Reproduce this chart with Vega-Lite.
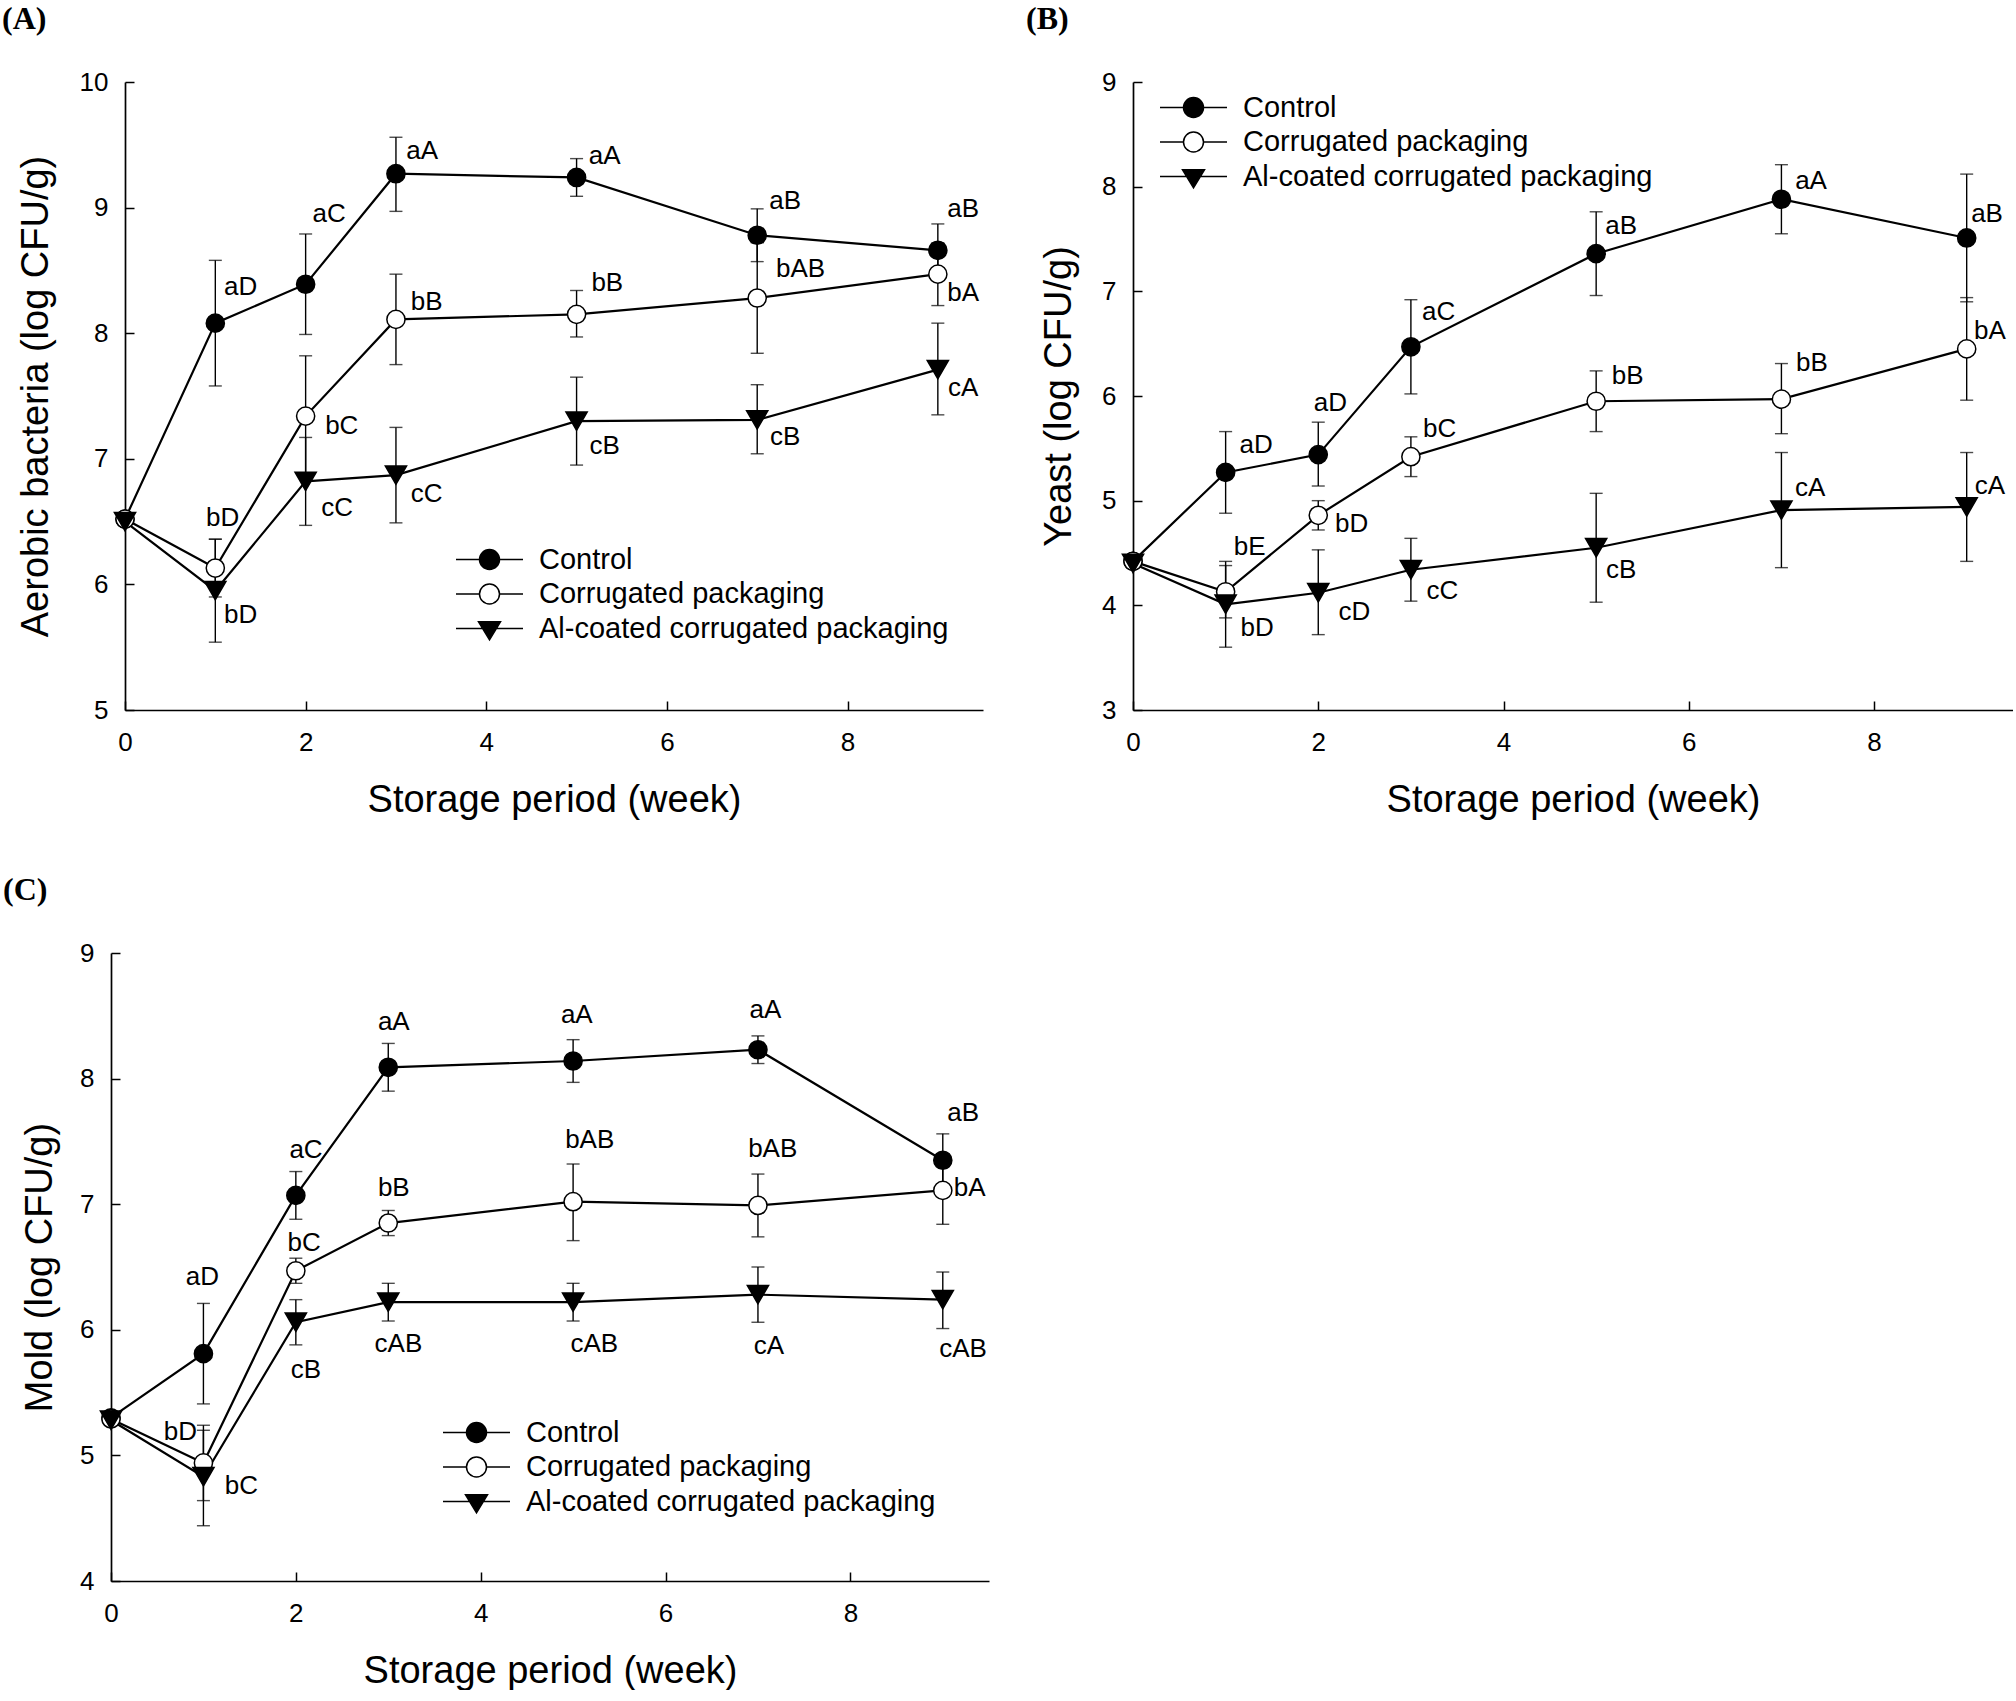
{
  "$schema": "https://vega.github.io/schema/vega-lite/v6.json",
  "background": "white",
  "padding": {"left": 2, "top": 3, "right": 0, "bottom": 0},
  "datasets": {
    "A": [
      {"week": 0, "series": "Control", "mean": 6.52, "lo": 6.50, "hi": 6.54, "label": "", "lx": 0, "ly": 6.52},
      {"week": 1, "series": "Control", "mean": 8.08, "lo": 7.58, "hi": 8.58, "label": "aD", "lx": 1.28, "ly": 8.37},
      {"week": 2, "series": "Control", "mean": 8.39, "lo": 7.99, "hi": 8.79, "label": "aC", "lx": 2.26, "ly": 8.95},
      {"week": 3, "series": "Control", "mean": 9.27, "lo": 8.97, "hi": 9.56, "label": "aA", "lx": 3.29, "ly": 9.45},
      {"week": 5, "series": "Control", "mean": 9.24, "lo": 9.09, "hi": 9.39, "label": "aA", "lx": 5.31, "ly": 9.41},
      {"week": 7, "series": "Control", "mean": 8.78, "lo": 8.57, "hi": 8.99, "label": "aB", "lx": 7.31, "ly": 9.05},
      {"week": 9, "series": "Control", "mean": 8.66, "lo": 8.45, "hi": 8.87, "label": "aB", "lx": 9.28, "ly": 8.99},
      {"week": 0, "series": "Corrugated packaging", "mean": 6.52, "lo": 6.50, "hi": 6.54, "label": "", "lx": 0, "ly": 6.52},
      {"week": 1, "series": "Corrugated packaging", "mean": 6.13, "lo": 5.90, "hi": 6.36, "label": "bD", "lx": 1.08, "ly": 6.53},
      {"week": 2, "series": "Corrugated packaging", "mean": 7.34, "lo": 6.86, "hi": 7.82, "label": "bC", "lx": 2.40, "ly": 7.26},
      {"week": 3, "series": "Corrugated packaging", "mean": 8.11, "lo": 7.75, "hi": 8.47, "label": "bB", "lx": 3.34, "ly": 8.25},
      {"week": 5, "series": "Corrugated packaging", "mean": 8.15, "lo": 7.97, "hi": 8.34, "label": "bB", "lx": 5.34, "ly": 8.40},
      {"week": 7, "series": "Corrugated packaging", "mean": 8.28, "lo": 7.84, "hi": 8.72, "label": "bAB", "lx": 7.48, "ly": 8.51},
      {"week": 9, "series": "Corrugated packaging", "mean": 8.47, "lo": 8.22, "hi": 8.72, "label": "bA", "lx": 9.28, "ly": 8.32},
      {"week": 0, "series": "Al-coated corrugated packaging", "mean": 6.50, "lo": 6.48, "hi": 6.52, "label": "", "lx": 0, "ly": 6.50},
      {"week": 1, "series": "Al-coated corrugated packaging", "mean": 5.95, "lo": 5.54, "hi": 6.36, "label": "bD", "lx": 1.28, "ly": 5.76},
      {"week": 2, "series": "Al-coated corrugated packaging", "mean": 6.82, "lo": 6.47, "hi": 7.17, "label": "cC", "lx": 2.35, "ly": 6.61},
      {"week": 3, "series": "Al-coated corrugated packaging", "mean": 6.87, "lo": 6.49, "hi": 7.25, "label": "cC", "lx": 3.34, "ly": 6.72},
      {"week": 5, "series": "Al-coated corrugated packaging", "mean": 7.30, "lo": 6.95, "hi": 7.65, "label": "cB", "lx": 5.31, "ly": 7.10},
      {"week": 7, "series": "Al-coated corrugated packaging", "mean": 7.31, "lo": 7.04, "hi": 7.59, "label": "cB", "lx": 7.31, "ly": 7.17},
      {"week": 9, "series": "Al-coated corrugated packaging", "mean": 7.71, "lo": 7.35, "hi": 8.08, "label": "cA", "lx": 9.28, "ly": 7.56}
    ],
    "B": [
      {"week": 0, "series": "Control", "mean": 4.42, "lo": 4.40, "hi": 4.44, "label": "", "lx": 0, "ly": 4.42},
      {"week": 1, "series": "Control", "mean": 5.27, "lo": 4.88, "hi": 5.66, "label": "aD", "lx": 1.33, "ly": 5.53},
      {"week": 2, "series": "Control", "mean": 5.44, "lo": 5.14, "hi": 5.75, "label": "aD", "lx": 2.13, "ly": 5.93},
      {"week": 3, "series": "Control", "mean": 6.47, "lo": 6.02, "hi": 6.92, "label": "aC", "lx": 3.30, "ly": 6.80},
      {"week": 5, "series": "Control", "mean": 7.36, "lo": 6.96, "hi": 7.76, "label": "aB", "lx": 5.27, "ly": 7.62},
      {"week": 7, "series": "Control", "mean": 7.88, "lo": 7.55, "hi": 8.21, "label": "aA", "lx": 7.32, "ly": 8.05},
      {"week": 9, "series": "Control", "mean": 7.51, "lo": 6.90, "hi": 8.12, "label": "aB", "lx": 9.22, "ly": 7.74},
      {"week": 0, "series": "Corrugated packaging", "mean": 4.42, "lo": 4.40, "hi": 4.44, "label": "", "lx": 0, "ly": 4.42},
      {"week": 1, "series": "Corrugated packaging", "mean": 4.13, "lo": 3.88, "hi": 4.38, "label": "bE", "lx": 1.26, "ly": 4.56},
      {"week": 2, "series": "Corrugated packaging", "mean": 4.86, "lo": 4.72, "hi": 5.00, "label": "bD", "lx": 2.36, "ly": 4.78},
      {"week": 3, "series": "Corrugated packaging", "mean": 5.42, "lo": 5.23, "hi": 5.61, "label": "bC", "lx": 3.31, "ly": 5.68},
      {"week": 5, "series": "Corrugated packaging", "mean": 5.95, "lo": 5.66, "hi": 6.24, "label": "bB", "lx": 5.34, "ly": 6.19},
      {"week": 7, "series": "Corrugated packaging", "mean": 5.97, "lo": 5.64, "hi": 6.31, "label": "bB", "lx": 7.33, "ly": 6.32},
      {"week": 9, "series": "Corrugated packaging", "mean": 6.45, "lo": 5.96, "hi": 6.94, "label": "bA", "lx": 9.25, "ly": 6.62},
      {"week": 0, "series": "Al-coated corrugated packaging", "mean": 4.40, "lo": 4.38, "hi": 4.42, "label": "", "lx": 0, "ly": 4.40},
      {"week": 1, "series": "Al-coated corrugated packaging", "mean": 4.01, "lo": 3.60, "hi": 4.42, "label": "bD", "lx": 1.34, "ly": 3.78},
      {"week": 2, "series": "Al-coated corrugated packaging", "mean": 4.12, "lo": 3.72, "hi": 4.53, "label": "cD", "lx": 2.39, "ly": 3.94},
      {"week": 3, "series": "Al-coated corrugated packaging", "mean": 4.34, "lo": 4.04, "hi": 4.64, "label": "cC", "lx": 3.34, "ly": 4.14},
      {"week": 5, "series": "Al-coated corrugated packaging", "mean": 4.55, "lo": 4.03, "hi": 5.07, "label": "cB", "lx": 5.27, "ly": 4.34},
      {"week": 7, "series": "Al-coated corrugated packaging", "mean": 4.91, "lo": 4.36, "hi": 5.46, "label": "cA", "lx": 7.31, "ly": 5.12},
      {"week": 9, "series": "Al-coated corrugated packaging", "mean": 4.94, "lo": 4.42, "hi": 5.46, "label": "cA", "lx": 9.25, "ly": 5.14}
    ],
    "C": [
      {"week": 0, "series": "Control", "mean": 5.30, "lo": 5.28, "hi": 5.32, "label": "", "lx": 0, "ly": 5.30},
      {"week": 1, "series": "Control", "mean": 5.81, "lo": 5.41, "hi": 6.21, "label": "aD", "lx": 0.99, "ly": 6.42},
      {"week": 2, "series": "Control", "mean": 7.07, "lo": 6.88, "hi": 7.26, "label": "aC", "lx": 2.11, "ly": 7.43},
      {"week": 3, "series": "Control", "mean": 8.09, "lo": 7.90, "hi": 8.28, "label": "aA", "lx": 3.06, "ly": 8.45},
      {"week": 5, "series": "Control", "mean": 8.14, "lo": 7.97, "hi": 8.31, "label": "aA", "lx": 5.04, "ly": 8.51},
      {"week": 7, "series": "Control", "mean": 8.23, "lo": 8.12, "hi": 8.34, "label": "aA", "lx": 7.08, "ly": 8.55},
      {"week": 9, "series": "Control", "mean": 7.35, "lo": 7.15, "hi": 7.56, "label": "aB", "lx": 9.22, "ly": 7.73},
      {"week": 0, "series": "Corrugated packaging", "mean": 5.29, "lo": 5.27, "hi": 5.31, "label": "", "lx": 0, "ly": 5.29},
      {"week": 1, "series": "Corrugated packaging", "mean": 4.94, "lo": 4.64, "hi": 5.24, "label": "bD", "lx": 0.75, "ly": 5.19},
      {"week": 2, "series": "Corrugated packaging", "mean": 6.47, "lo": 6.37, "hi": 6.57, "label": "bC", "lx": 2.09, "ly": 6.69},
      {"week": 3, "series": "Corrugated packaging", "mean": 6.85, "lo": 6.75, "hi": 6.95, "label": "bB", "lx": 3.06, "ly": 7.13},
      {"week": 5, "series": "Corrugated packaging", "mean": 7.02, "lo": 6.71, "hi": 7.32, "label": "bAB", "lx": 5.18, "ly": 7.51},
      {"week": 7, "series": "Corrugated packaging", "mean": 6.99, "lo": 6.74, "hi": 7.24, "label": "bAB", "lx": 7.16, "ly": 7.44},
      {"week": 9, "series": "Corrugated packaging", "mean": 7.11, "lo": 6.84, "hi": 7.38, "label": "bA", "lx": 9.29, "ly": 7.13},
      {"week": 0, "series": "Al-coated corrugated packaging", "mean": 5.28, "lo": 5.26, "hi": 5.30, "label": "", "lx": 0, "ly": 5.28},
      {"week": 1, "series": "Al-coated corrugated packaging", "mean": 4.83, "lo": 4.44, "hi": 5.20, "label": "bC", "lx": 1.41, "ly": 4.76},
      {"week": 2, "series": "Al-coated corrugated packaging", "mean": 6.06, "lo": 5.88, "hi": 6.24, "label": "cB", "lx": 2.11, "ly": 5.68},
      {"week": 3, "series": "Al-coated corrugated packaging", "mean": 6.22, "lo": 6.07, "hi": 6.37, "label": "cAB", "lx": 3.11, "ly": 5.89},
      {"week": 5, "series": "Al-coated corrugated packaging", "mean": 6.22, "lo": 6.07, "hi": 6.37, "label": "cAB", "lx": 5.23, "ly": 5.89},
      {"week": 7, "series": "Al-coated corrugated packaging", "mean": 6.28, "lo": 6.06, "hi": 6.50, "label": "cA", "lx": 7.12, "ly": 5.87},
      {"week": 9, "series": "Al-coated corrugated packaging", "mean": 6.24, "lo": 6.01, "hi": 6.46, "label": "cAB", "lx": 9.22, "ly": 5.85}
    ]
  },
  "concat": [
    {
      "width": 872, "height": 628,
      "title": {"text": "(A)", "dx": -109, "offset": 33},
      "data": {"name": "A"},
      "layer": [
        {
          "mark": {"type": "errorbar", "color": "black", "thickness": 1.4, "ticks": {"size": 13}},
          "encoding": {
            "x": {"field": "week", "type": "quantitative", "title": "Storage period (week)", "scale": {"domain": [0, 9.5], "range": [14, 872], "nice": false, "zero": false}, "axis": {"values": [0, 2, 4, 6, 8], "format": "d"}},
            "y": {"field": "lo", "type": "quantitative", "title": "Aerobic bacteria (log CFU/g)", "scale": {"domain": [5, 10], "nice": false, "zero": false}, "axis": {"values": [5, 6, 7, 8, 9, 10], "format": "d", "titlePadding": 24, "offset": -14}},
            "y2": {"field": "hi"},
            "detail": {"field": "series"}
          }
        },
        {
          "mark": {"type": "line", "color": "black", "strokeWidth": 2.2},
          "encoding": {
            "x": {"field": "week", "type": "quantitative", "title": "Storage period (week)"},
            "y": {"field": "mean", "type": "quantitative", "title": "Aerobic bacteria (log CFU/g)"},
            "detail": {"field": "series"}
          }
        },
        {
          "transform": [{"filter": "datum.series === 'Control'"}],
          "mark": {"type": "point", "shape": "circle", "filled": true, "fill": "black", "stroke": "black", "strokeWidth": 1.5, "size": 330, "opacity": 1},
          "encoding": {
            "x": {"field": "week", "type": "quantitative", "title": "Storage period (week)"},
            "y": {"field": "mean", "type": "quantitative", "title": "Aerobic bacteria (log CFU/g)"}
          }
        },
        {
          "transform": [{"filter": "datum.series === 'Corrugated packaging'"}],
          "mark": {"type": "point", "shape": "circle", "filled": true, "fill": "white", "stroke": "black", "strokeWidth": 1.5, "size": 330, "opacity": 1},
          "encoding": {
            "x": {"field": "week", "type": "quantitative", "title": "Storage period (week)"},
            "y": {"field": "mean", "type": "quantitative", "title": "Aerobic bacteria (log CFU/g)"}
          }
        },
        {
          "transform": [{"filter": "datum.series === 'Al-coated corrugated packaging'"}],
          "mark": {"type": "point", "shape": "triangle-down", "filled": true, "fill": "black", "stroke": "black", "strokeWidth": 1.5, "size": 450, "opacity": 1},
          "encoding": {
            "x": {"field": "week", "type": "quantitative", "title": "Storage period (week)"},
            "y": {"field": "mean", "type": "quantitative", "title": "Aerobic bacteria (log CFU/g)"}
          }
        },
        {
          "transform": [{"filter": "false"}],
          "mark": {"type": "point", "filled": true, "stroke": "black", "strokeWidth": 2, "opacity": 1},
          "encoding": {
            "shape": {"field": "series", "type": "nominal", "scale": {"domain": ["Control", "Corrugated packaging", "Al-coated corrugated packaging"], "range": ["M-3.35,0H-1M1,0H3.35M-1,0A1,1,0,1,0,1,0A1,1,0,1,0,-1,0Z", "M-3.35,0H-1M1,0H3.35M-1,0A1,1,0,1,0,1,0A1,1,0,1,0,-1,0Z", "M-3.35,0H3.35M-1.1,-0.67L1.1,-0.67L0,1.13Z"]},
              "legend": {"orient": "none", "legendX": 364, "legendY": 463, "title": null, "symbolSize": 400, "labelOffset": 35, "rowPadding": 4.5, "padding": 0, "labelLimit": 700, "labelFontSize": 29}},
            "fill": {"field": "series", "type": "nominal", "scale": {"domain": ["Control", "Corrugated packaging", "Al-coated corrugated packaging"], "range": ["black", "white", "black"]},
              "legend": {"orient": "none", "legendX": 364, "legendY": 463, "title": null, "symbolSize": 400, "labelOffset": 35, "rowPadding": 4.5, "padding": 0, "labelLimit": 700, "labelFontSize": 29}}
          }
        },
        {
          "mark": {"type": "text", "fontSize": 26, "align": "center", "baseline": "middle", "color": "black"},
          "encoding": {
            "x": {"field": "lx", "type": "quantitative", "title": "Storage period (week)"},
            "y": {"field": "ly", "type": "quantitative", "title": "Aerobic bacteria (log CFU/g)"},
            "text": {"field": "label"}
          }
        }
      ]
    },
    {
      "width": 880, "height": 628,
      "title": {"text": "(B)", "dx": -107, "offset": 33},
      "data": {"name": "B"},
      "layer": [
        {
          "mark": {"type": "errorbar", "color": "black", "thickness": 1.4, "ticks": {"size": 13}},
          "encoding": {
            "x": {"field": "week", "type": "quantitative", "title": "Storage period (week)", "scale": {"domain": [0, 9.5], "nice": false, "zero": false}, "axis": {"values": [0, 2, 4, 6, 8], "format": "d"}},
            "y": {"field": "lo", "type": "quantitative", "title": "Yeast (log CFU/g)", "scale": {"domain": [3, 9], "nice": false, "zero": false}, "axis": {"values": [3, 4, 5, 6, 7, 8, 9], "format": "d", "titlePadding": 23}},
            "y2": {"field": "hi"},
            "detail": {"field": "series"}
          }
        },
        {
          "mark": {"type": "line", "color": "black", "strokeWidth": 2.2},
          "encoding": {
            "x": {"field": "week", "type": "quantitative", "title": "Storage period (week)"},
            "y": {"field": "mean", "type": "quantitative", "title": "Yeast (log CFU/g)"},
            "detail": {"field": "series"}
          }
        },
        {
          "transform": [{"filter": "datum.series === 'Control'"}],
          "mark": {"type": "point", "shape": "circle", "filled": true, "fill": "black", "stroke": "black", "strokeWidth": 1.5, "size": 330, "opacity": 1},
          "encoding": {
            "x": {"field": "week", "type": "quantitative", "title": "Storage period (week)"},
            "y": {"field": "mean", "type": "quantitative", "title": "Yeast (log CFU/g)"}
          }
        },
        {
          "transform": [{"filter": "datum.series === 'Corrugated packaging'"}],
          "mark": {"type": "point", "shape": "circle", "filled": true, "fill": "white", "stroke": "black", "strokeWidth": 1.5, "size": 330, "opacity": 1},
          "encoding": {
            "x": {"field": "week", "type": "quantitative", "title": "Storage period (week)"},
            "y": {"field": "mean", "type": "quantitative", "title": "Yeast (log CFU/g)"}
          }
        },
        {
          "transform": [{"filter": "datum.series === 'Al-coated corrugated packaging'"}],
          "mark": {"type": "point", "shape": "triangle-down", "filled": true, "fill": "black", "stroke": "black", "strokeWidth": 1.5, "size": 450, "opacity": 1},
          "encoding": {
            "x": {"field": "week", "type": "quantitative", "title": "Storage period (week)"},
            "y": {"field": "mean", "type": "quantitative", "title": "Yeast (log CFU/g)"}
          }
        },
        {
          "transform": [{"filter": "false"}],
          "mark": {"type": "point", "filled": true, "stroke": "black", "strokeWidth": 2, "opacity": 1},
          "encoding": {
            "shape": {"field": "series", "type": "nominal", "scale": {"domain": ["Control", "Corrugated packaging", "Al-coated corrugated packaging"], "range": ["M-3.35,0H-1M1,0H3.35M-1,0A1,1,0,1,0,1,0A1,1,0,1,0,-1,0Z", "M-3.35,0H-1M1,0H3.35M-1,0A1,1,0,1,0,1,0A1,1,0,1,0,-1,0Z", "M-3.35,0H3.35M-1.1,-0.67L1.1,-0.67L0,1.13Z"]},
              "legend": {"orient": "none", "legendX": 46, "legendY": 11, "title": null, "symbolSize": 400, "labelOffset": 35, "rowPadding": 4.5, "padding": 0, "labelLimit": 700, "labelFontSize": 29}},
            "fill": {"field": "series", "type": "nominal", "scale": {"domain": ["Control", "Corrugated packaging", "Al-coated corrugated packaging"], "range": ["black", "white", "black"]},
              "legend": {"orient": "none", "legendX": 46, "legendY": 11, "title": null, "symbolSize": 400, "labelOffset": 35, "rowPadding": 4.5, "padding": 0, "labelLimit": 700, "labelFontSize": 29}}
          }
        },
        {
          "mark": {"type": "text", "fontSize": 26, "align": "center", "baseline": "middle", "color": "black"},
          "encoding": {
            "x": {"field": "lx", "type": "quantitative", "title": "Storage period (week)"},
            "y": {"field": "ly", "type": "quantitative", "title": "Yeast (log CFU/g)"},
            "text": {"field": "label"}
          }
        }
      ]
    },
    {
      "width": 878, "height": 628,
      "title": {"text": "(C)", "dx": -108, "offset": 33},
      "data": {"name": "C"},
      "layer": [
        {
          "mark": {"type": "errorbar", "color": "black", "thickness": 1.4, "ticks": {"size": 13}},
          "encoding": {
            "x": {"field": "week", "type": "quantitative", "title": "Storage period (week)", "scale": {"domain": [0, 9.5], "nice": false, "zero": false}, "axis": {"values": [0, 2, 4, 6, 8], "format": "d"}},
            "y": {"field": "lo", "type": "quantitative", "title": "Mold (log CFU/g)", "scale": {"domain": [4, 9], "nice": false, "zero": false}, "axis": {"values": [4, 5, 6, 7, 8, 9], "format": "d", "titlePadding": 20}},
            "y2": {"field": "hi"},
            "detail": {"field": "series"}
          }
        },
        {
          "mark": {"type": "line", "color": "black", "strokeWidth": 2.2},
          "encoding": {
            "x": {"field": "week", "type": "quantitative", "title": "Storage period (week)"},
            "y": {"field": "mean", "type": "quantitative", "title": "Mold (log CFU/g)"},
            "detail": {"field": "series"}
          }
        },
        {
          "transform": [{"filter": "datum.series === 'Control'"}],
          "mark": {"type": "point", "shape": "circle", "filled": true, "fill": "black", "stroke": "black", "strokeWidth": 1.5, "size": 330, "opacity": 1},
          "encoding": {
            "x": {"field": "week", "type": "quantitative", "title": "Storage period (week)"},
            "y": {"field": "mean", "type": "quantitative", "title": "Mold (log CFU/g)"}
          }
        },
        {
          "transform": [{"filter": "datum.series === 'Corrugated packaging'"}],
          "mark": {"type": "point", "shape": "circle", "filled": true, "fill": "white", "stroke": "black", "strokeWidth": 1.5, "size": 330, "opacity": 1},
          "encoding": {
            "x": {"field": "week", "type": "quantitative", "title": "Storage period (week)"},
            "y": {"field": "mean", "type": "quantitative", "title": "Mold (log CFU/g)"}
          }
        },
        {
          "transform": [{"filter": "datum.series === 'Al-coated corrugated packaging'"}],
          "mark": {"type": "point", "shape": "triangle-down", "filled": true, "fill": "black", "stroke": "black", "strokeWidth": 1.5, "size": 450, "opacity": 1},
          "encoding": {
            "x": {"field": "week", "type": "quantitative", "title": "Storage period (week)"},
            "y": {"field": "mean", "type": "quantitative", "title": "Mold (log CFU/g)"}
          }
        },
        {
          "transform": [{"filter": "false"}],
          "mark": {"type": "point", "filled": true, "stroke": "black", "strokeWidth": 2, "opacity": 1},
          "encoding": {
            "shape": {"field": "series", "type": "nominal", "scale": {"domain": ["Control", "Corrugated packaging", "Al-coated corrugated packaging"], "range": ["M-3.35,0H-1M1,0H3.35M-1,0A1,1,0,1,0,1,0A1,1,0,1,0,-1,0Z", "M-3.35,0H-1M1,0H3.35M-1,0A1,1,0,1,0,1,0A1,1,0,1,0,-1,0Z", "M-3.35,0H3.35M-1.1,-0.67L1.1,-0.67L0,1.13Z"]},
              "legend": {"orient": "none", "legendX": 351, "legendY": 465, "title": null, "symbolSize": 400, "labelOffset": 35, "rowPadding": 4.5, "padding": 0, "labelLimit": 700, "labelFontSize": 29}},
            "fill": {"field": "series", "type": "nominal", "scale": {"domain": ["Control", "Corrugated packaging", "Al-coated corrugated packaging"], "range": ["black", "white", "black"]},
              "legend": {"orient": "none", "legendX": 351, "legendY": 465, "title": null, "symbolSize": 400, "labelOffset": 35, "rowPadding": 4.5, "padding": 0, "labelLimit": 700, "labelFontSize": 29}}
          }
        },
        {
          "mark": {"type": "text", "fontSize": 26, "align": "center", "baseline": "middle", "color": "black"},
          "encoding": {
            "x": {"field": "lx", "type": "quantitative", "title": "Storage period (week)"},
            "y": {"field": "ly", "type": "quantitative", "title": "Mold (log CFU/g)"},
            "text": {"field": "label"}
          }
        }
      ]
    }
  ],
  "columns": 2,
  "spacing": {"row": 243, "column": 144},
  "bounds": "flush",
  "resolve": {"scale": {"x": "independent", "y": "independent", "shape": "independent", "fill": "independent"}, "legend": {"shape": "independent", "fill": "independent"}},
  "config": {
    "view": {"stroke": null},
    "font": "Liberation Sans",
    "axis": {"domainColor": "black", "domainWidth": 1.7, "tickColor": "black", "tickWidth": 1.5, "tickSize": -9, "labelFont": "Liberation Sans", "labelFontSize": 26, "labelColor": "black", "titleFont": "Liberation Sans", "titleFontSize": 38, "titleFontWeight": "normal", "titleColor": "black", "grid": false, "labelFlush": false, "labelOverlap": false},
    "axisX": {"labelPadding": 28, "titlePadding": 26},
    "axisY": {"labelPadding": 26},
    "title": {"font": "Liberation Serif", "fontSize": 32, "fontWeight": "bold", "anchor": "start", "frame": "group", "color": "black"},
    "legend": {"labelFont": "Liberation Sans", "labelFontSize": 29, "labelColor": "black", "symbolOffset": 0}
  }
}
